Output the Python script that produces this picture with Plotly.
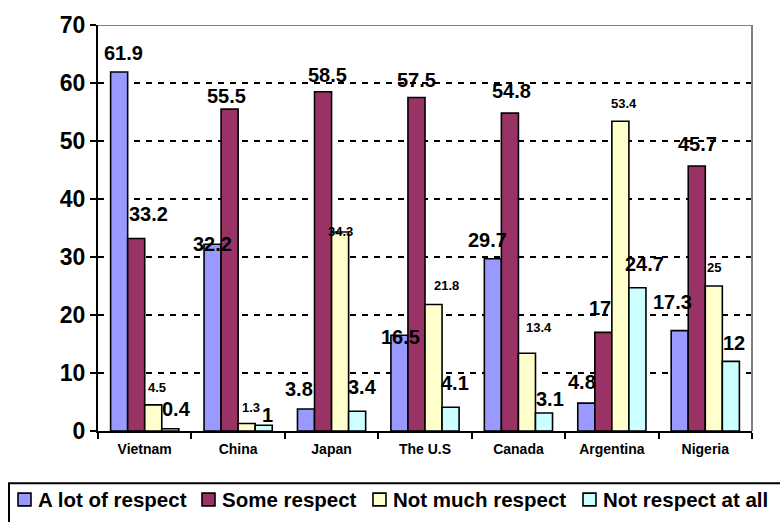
import plotly.graph_objects as go

# Survey: how much respect people have for ... , by country (%)
countries = ["Vietnam", "China", "Japan", "The U.S", "Canada", "Argentina", "Nigeria"]
series_names = ["A lot of respect", "Some respect", "Not much respect", "Not respect at all"]

a_lot = [61.9, 32.2, 3.8, 16.5, 29.7, 4.8, 17.3]
some = [33.2, 55.5, 58.5, 57.5, 54.8, 17, 45.7]
not_much = [4.5, 1.3, 34.3, 21.8, 13.4, 53.4, 25]
not_at_all = [0.4, 1, 3.4, 4.1, 3.1, 24.7, 12]

y_ticks = [0, 10, 20, 30, 40, 50, 60, 70]

# Styling
colors = ["#9999FF", "#993366", "#FFFFCC", "#CCFFFF"]
label_sizes = [20, 20, 13, 20]
FONT = "Liberation Sans, Arial, sans-serif"
BARGAP = 0.27
W, H = 780, 522
M_L, M_R, M_T, M_B = 98, 28, 19, 91

# Hand-placed label nudges in pixels (dx right, dy up) relative to each bar top
label_nudges = [
    [(4, 19), (0, 0), (-7, 20), (1, -2), (-5, 19), (-4, 21), (-7, 29)],
    [(12, 24), (-3, 13), (4, 17), (0, 18), (2, 22), (-3, 24), (1, 22)],
    [(4, 17), (4, 16), (0, 1), (13, 19), (12, 26), (4, 18), (0, 19)],
    [(6, 20), (4, 10), (5, 24), (4, 24), (6, 14), (7, 24), (3, 18)],
]

all_series = [a_lot, some, not_much, not_at_all]

fig = go.Figure()
for name, vals, col in zip(series_names, all_series, colors):
    fig.add_trace(go.Bar(
        name=name, x=countries, y=vals,
        marker=dict(color=col, line=dict(color="black", width=1.6)),
    ))

# Value labels above the bars
n = len(all_series)
bar_w = (1 - BARGAP) / n
annotations = []
for k, vals in enumerate(all_series):
    for i, v in enumerate(vals):
        dx, dy = label_nudges[k][i]
        annotations.append(dict(
            x=i + (k - (n - 1) / 2) * bar_w, y=v, xref="x", yref="y",
            text=str(v), showarrow=False,
            xshift=dx, yshift=dy, yanchor="middle", xanchor="center",
            font=dict(family=FONT, size=label_sizes[k], color="black", weight="bold"),
        ))


# Legend box along the bottom edge, laid out in pixels
def px_x(px):
    return (px - M_L) / (W - M_L - M_R)


def px_y(py):
    return (H - M_B - py) / (H - M_T - M_B)


legend_left = [18, 202, 373, 583]   # left edge of each swatch
SW = 13                             # swatch size
LEG_CY = 501                        # vertical centre of the legend row

shapes = [
    # grey frame on top and right of the plot area
    dict(type="line", xref="paper", yref="y", x0=0, x1=1, y0=70, y1=70,
         line=dict(color="#808080", width=2)),
    dict(type="line", xref="paper", yref="y", x0=1, x1=1, y0=0, y1=70,
         line=dict(color="#808080", width=2)),
    # legend frame
    dict(type="rect", xref="paper", yref="paper",
         x0=px_x(9), x1=px_x(W + 4), y0=px_y(484), y1=px_y(H + 4),
         line=dict(color="black", width=2), fillcolor="white", layer="below"),
]
for name, col, lx in zip(series_names, colors, legend_left):
    shapes.append(dict(
        type="rect", xref="paper", yref="paper",
        x0=px_x(lx), x1=px_x(lx + SW),
        y0=px_y(LEG_CY - SW / 2 - 0.5), y1=px_y(LEG_CY + SW / 2 - 0.5),
        line=dict(color="black", width=1.6), fillcolor=col,
    ))
    annotations.append(dict(
        x=px_x(lx + SW + 5), y=px_y(LEG_CY), xref="paper", yref="paper",
        text=name, showarrow=False, xanchor="left", yanchor="middle",
        font=dict(family=FONT, size=20.5, color="black", weight="bold"),
    ))

fig.update_layout(
    width=W, height=H,
    margin=dict(l=M_L, r=M_R, t=M_T, b=M_B),
    paper_bgcolor="white", plot_bgcolor="white",
    barmode="group", bargap=BARGAP, bargroupgap=0,
    font=dict(family=FONT, color="black"),
    annotations=annotations,
    shapes=shapes,
    showlegend=False,
)

fig.update_xaxes(
    type="category", tickson="boundaries", ticks="outside", ticklen=6,
    tickwidth=2, tickcolor="black", showline=True, linecolor="black", linewidth=2,
    showgrid=False, ticklabelstandoff=4,
    tickfont=dict(family=FONT, size=14, color="black", weight="bold"),
)
fig.update_yaxes(
    range=[0, 70], tickvals=y_ticks, ticks="outside", ticklen=6, tickwidth=2,
    tickcolor="black", showline=True, linecolor="black", linewidth=2,
    showgrid=True, gridcolor="black", gridwidth=2, griddash="6px,6px",
    zeroline=False,
    tickfont=dict(family=FONT, size=23, color="black", weight="bold"),
)

fig.write_html("out.html")
